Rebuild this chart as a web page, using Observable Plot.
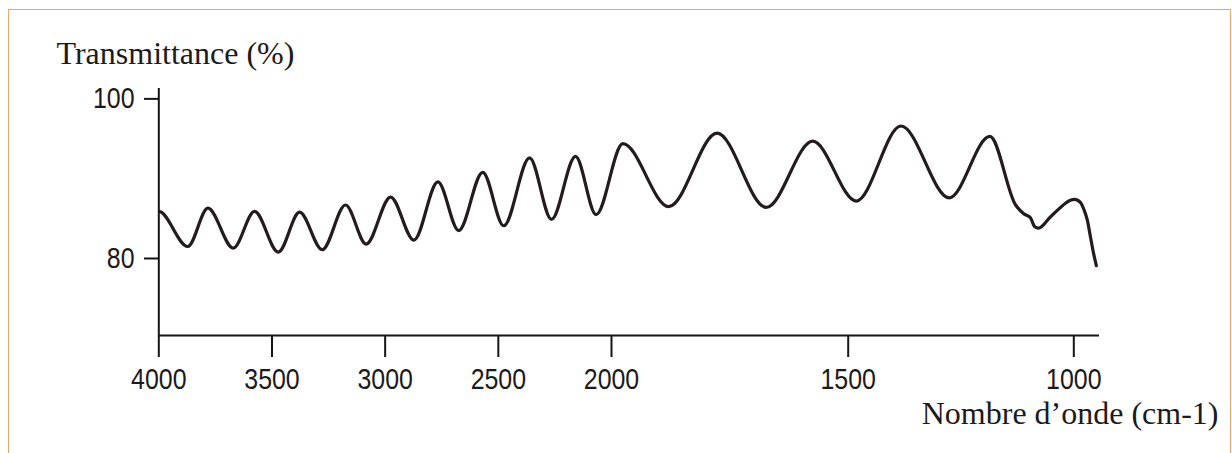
<!DOCTYPE html>
<html>
<head>
<meta charset="utf-8">
<script src="https://cdn.jsdelivr.net/npm/d3@7"></script>
<script src="https://cdn.jsdelivr.net/npm/@observablehq/plot@0.6"></script>
<style>
  html, body { margin: 0; padding: 0; background: #fff; overflow: hidden; }
  #wrap { position: relative; width: 1232px; height: 453px; }
  #wrap svg { position: absolute; left: 0; top: 0; }
  #border { position: absolute; left: 8px; top: 9px; width: 1221px; height: 520px;
            border: 1.5px solid #e6a872; pointer-events: none; }
</style>
</head>
<body>
<div id="wrap"><div id="border"></div></div>
<script>
// Wavenumber (cm-1) and transmittance (%)
const wavenumbers = [4030, 4000, 3872, 3783, 3671, 3577, 3472, 3378, 3278, 3175, 3084, 2976, 2873, 2767, 2675, 2569, 2476, 2362, 2265, 2159, 2068, 1976, 1879, 1777, 1673, 1575, 1482, 1383, 1276, 1186, 1129, 1111, 1096, 1087, 1078, 1052, 998, 985, 978, 970, 963, 956, 950];
const transmittance = [85.6, 85.9, 81.5, 86.3, 81.3, 85.9, 80.8, 85.8, 81.1, 86.7, 81.8, 87.7, 82.3, 89.6, 83.5, 90.8, 84.1, 92.6, 84.9, 92.8, 85.5, 94.4, 86.5, 95.7, 86.4, 94.7, 87.2, 96.6, 87.6, 95.3, 86.7, 85.6, 85.1, 84.0, 83.8, 85.2, 87.4, 87.0, 86.2, 84.8, 82.7, 80.6, 79.1];
const xTicks = [4000, 3500, 3000, 2500, 2000, 1500, 1000];
const yTicks = [80, 100];
const yTitle = "Transmittance (%)";
const xTitle = "Nombre d\u2019onde (cm-1)";

const spectrum = wavenumbers.map((w, i) => ({w, t: transmittance[i]}));
const yMin = 70.35, yMax = 101.3;
const tickFont = "'Liberation Sans Narrow', 'Arial Narrow', 'Liberation Sans', sans-serif";
const titleFont = "'Liberation Serif', 'Times New Roman', serif";

const chart = Plot.plot({
  width: 1232,
  height: 453,
  marginLeft: 158,
  marginRight: 133,
  marginTop: 88,
  marginBottom: 118,
  style: {background: "transparent", color: "#1c1a1a", overflow: "visible"},
  x: {type: "linear", domain: [4000, 2000, 1500, 1000, 943], range: [158.3, 611, 847.7, 1073.3, 1099], axis: null},
  y: {domain: [yMin, yMax], range: [335, 88], axis: null},
  marks: [
    Plot.line(spectrum, {x: "w", y: "t", curve: "monotone-x", stroke: "#231b1d", strokeWidth: 3.2, clip: true}),
    Plot.ruleY([yMin], {stroke: "#151515", strokeWidth: 2}),
    Plot.ruleX([4000], {stroke: "#151515", strokeWidth: 2}),
    Plot.axisX({ticks: xTicks, tickFormat: d => String(d), tickSize: 22, tickPadding: 10,
      fontSize: 30, fontFamily: tickFont, strokeWidth: 2, stroke: "#151515", label: null}),
    Plot.axisY({ticks: yTicks, tickFormat: d => String(d), tickSize: 14, tickPadding: 10,
      fontSize: 30, fontFamily: tickFont, strokeWidth: 2, stroke: "#151515", label: null}),
    Plot.text([yTitle], {frameAnchor: "top-left", dx: -102, dy: -25, textAnchor: "start", lineAnchor: "bottom",
      fontSize: 32, fontFamily: titleFont, fill: "#1c1a1a"}),
    Plot.text([xTitle], {frameAnchor: "bottom-right", dx: 119, dy: 88, textAnchor: "end", lineAnchor: "bottom",
      fontSize: 32, fontFamily: titleFont, fill: "#1c1a1a"})
  ]
});
document.getElementById("wrap").appendChild(chart);

// narrow (Helvetica Narrow–like) tick labels
chart.querySelectorAll('g[aria-label*="tick label"] text').forEach(t => {
  const L = t.getComputedTextLength();
  if (L > 0) {
    t.setAttribute("textLength", (L * 0.83).toFixed(1));
    t.setAttribute("lengthAdjust", "spacingAndGlyphs");
  }
});
</script>
</body>
</html>
